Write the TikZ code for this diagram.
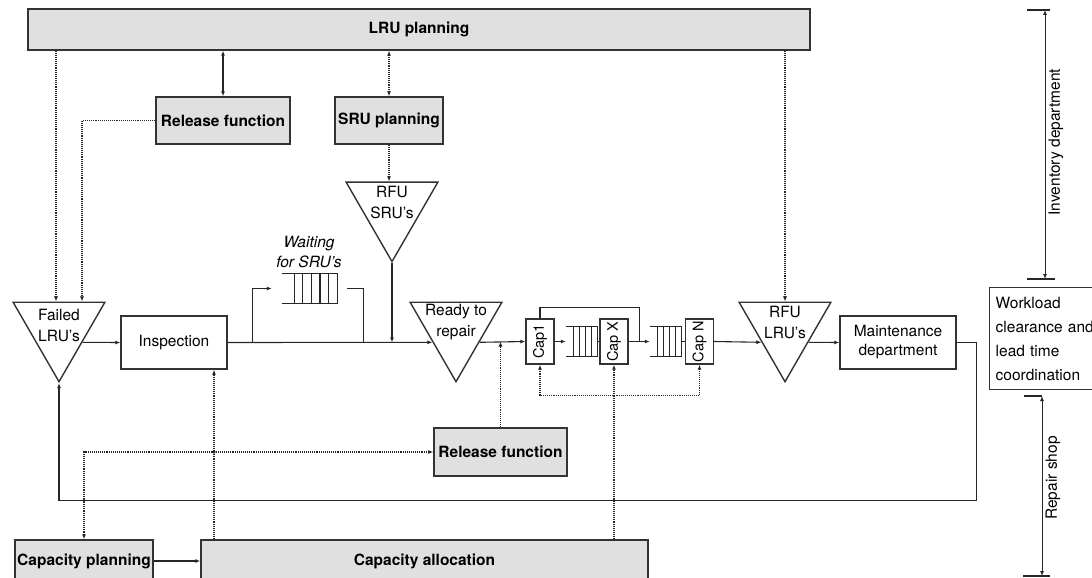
\documentclass[tikz,border=0pt]{standalone}
\usepackage{fontspec}
\setmainfont{TeX Gyre Heros}
\usetikzlibrary{positioning,calc,arrows.meta,shapes.geometric}

\begin{document}
\begin{tikzpicture}[x=1pt,y=-1pt,
  >={Latex[length=5pt,width=4pt]},
  box/.style={draw=black!80, line width=1.4pt, inner sep=0pt, align=center,
    font=\fontsize{15.5}{19}\selectfont},
  grey/.style={box, fill=black!12, font=\fontsize{15.5}{19}\selectfont\bfseries},
  stock/.style={regular polygon, regular polygon sides=3, shape border rotate=180,
    draw=black!80, line width=1.4pt, minimum size=106pt, inner sep=0pt},
  stocktext/.style={align=center, inner sep=0pt, font=\fontsize{15.5}{21}\selectfont},
  capbox/.style={box, minimum width=28pt, minimum height=45pt,
    font=\fontsize{14.5}{17}\selectfont},
  queue/.style={inner sep=0pt, minimum height=29pt},
  line/.style={draw=black!85, line width=1.1pt},
  flow/.style={line, ->},
  info/.style={line, densely dotted, ->},
  side/.style={font=\fontsize{15.5}{19}\selectfont, rotate=90},
]
  \useasboundingbox (0,0) rectangle (1092,578);
  \clip (0,0) rectangle (1092,578);

  % planning layer
  \node[grey, minimum width=782pt, minimum height=41pt] (lru) at (419,29.5) {LRU planning};
  \node[grey, minimum width=134pt, minimum height=47pt] (relup) at (223,120.5) {Release function};
  \node[grey, minimum width=108pt, minimum height=47pt] (sru) at (389,120.5) {SRU planning};
  \node[stock] (rfusru) at (392,208.6) {};
  \node[stocktext] (rfusrutxt) at ([yshift=6pt]rfusru.center) {RFU\\SRU's};

  % repair flow
  \node[stock] (failed) at (59,328.7) {};
  \node[stocktext] (failedtxt) at ([yshift=3pt]failed.center) {Failed\\LRU's};
  \node[box, minimum width=106pt, minimum height=53pt] (insp) at (174,342.5) {Inspection};
  \node[queue, minimum width=55pt] (q0) at (309.5,288.5) {};
  \node[align=center, font=\fontsize{15.5}{20}\selectfont\itshape] (waitlbl) at (309,252) {Waiting\\for SRU's};
  \node[stock] (ready) at (456,328.7) {};
  \node[stocktext] (readytxt) at ([yshift=7pt]ready.center) {Ready to\\repair};
  \node[capbox] (cap1) at (540,341.5) {\rotatebox{90}{Cap1}};
  \node[queue, minimum width=31pt] (q1) at (581.5,341.5) {};
  \node[capbox] (capx) at (614,341.5) {\rotatebox{90}{Cap X}};
  \node[queue, minimum width=31pt] (q2) at (665.5,341.5) {};
  \node[capbox] (capn) at (699.5,341.5) {\rotatebox{90}{Cap N}};
  \node[stock] (rfulru) at (785,328.7) {};
  \node[stocktext] (rfulrutxt) at ([yshift=6pt]rfulru.center) {RFU\\LRU's};
  \node[box, minimum width=116pt, minimum height=53pt] (maint) at (898,342.5) {Maintenance\\department};
  \node[box, anchor=north west, minimum height=102pt, text width=110pt, inner xsep=6pt,
    align=left, font=\fontsize{15.5}{24}\selectfont] (workload) at (989,287)
    {Workload\\clearance and\\lead time\\coordination};

  % capacity layer
  \node[grey, minimum width=133pt, minimum height=48pt] (reldown) at (500.5,452) {Release function};
  \node[grey, minimum width=138pt, minimum height=42pt] (cplan) at (84,561) {Capacity planning};
  \node[grey, minimum width=447pt, minimum height=42pt] (calloc) at (424.5,561) {Capacity allocation};

  % queues
  \foreach \q/\n/\s in {q0/5/8.6, q1/4/6, q2/4/6} {
    \draw[line] (\q.north west) -- (\q.north east) -- (\q.south east) -- (\q.south west);
    \foreach \k in {1,...,\n}
      \draw[line] ([xshift=-\k*\s]\q.north east) -- ([xshift=-\k*\s]\q.south east);
  }

  % information links
  \draw[line, <->] (relup.north) -- (relup.north |- lru.south);
  \draw[info, <->] (sru.north) -- (sru.north |- lru.south);
  \draw[info] (sru.south) -- (sru.south |- rfusru.north);
  \draw[info] ([xshift=-3pt]failed.north |- lru.south) -- ([xshift=-3pt]failed.north);
  \draw[info] (relup.west) -| ([xshift=23pt]failed.north);
  \draw[info] (rfulru.north |- lru.south) -- (rfulru.north);
  \draw[info] (reldown.north) -- (reldown.north |- cap1.west);
  \draw[info, <->] (cap1.south) -- ++(0,31) -| (capn.south);
  \draw[info] (calloc.north -| capx.south) -- (capx.south);
  \coordinate (ia) at ([xshift=40pt]insp.south);
  \draw[info] (calloc.north -| ia) -- (ia);
  \draw[info, <->] (reldown.west) -| (cplan.north);

  % goods flow
  \draw[flow] (failed.-30) -- (insp.west);
  \draw[flow] (insp.east) -- (ready.210);
  \draw[flow] ($(insp.east)+(25,0)$) |- ([xshift=-10pt]q0.west);
  \draw[line] ([xshift=10pt]q0.east) -| ($(insp.east)+(136,0)$);
  \draw[flow] (rfusru.south) -- (rfusru.south |- insp.east);
  \draw[flow] (ready.-30) -- (cap1.west);
  \draw[flow] (cap1.east) -- (q1.west);
  \draw[line] (q1.east) -- (capx.west);
  \draw[flow] (capx.east) -- (q2.west);
  \draw[line] (cap1.north) -- ++(0,-11) -| ($(capx.east)!0.5!(q2.west)$);
  \draw[line] (q2.east) -- (capn.west);
  \draw[flow] (capn.east) -- (rfulru.210);
  \draw[flow] (rfulru.-30) -- (maint.west);
  \coordinate (fb) at ($(maint.east)+(20,158)$);
  \draw[flow] (maint.east) -- ++(20,0) -- (fb) -| (failed.south);
  \draw[flow] (cplan.east) -- (calloc.west);

  % crossings
  \foreach \p in {cplan.north, ia, capx.south}
    \fill[black!85] (\p |- fb) circle (1.8pt);
  \fill[black!85] (ia |- reldown.west) circle (1.8pt);

  % departments
  \coordinate (invtop) at (1045,10);
  \coordinate (invbot) at (1045,279);
  \draw[line, line width=0.9pt, <->] (invtop) -- (invbot);
  \draw[line] ([xshift=-18pt]invtop) -- ([xshift=5pt]invtop);
  \draw[line] ([xshift=-18pt]invbot) -- ([xshift=10pt]invbot);
  \node[side] (invlbl) at (1056,142) {Inventory department};
  \coordinate (reptop) at (1042,396);
  \coordinate (repbot) at (1042,576);
  \draw[line, line width=0.9pt, <->] (reptop) -- (repbot);
  \draw[line] ([xshift=-18pt]reptop) -- (reptop);
  \draw[line] ([xshift=-19pt]repbot) -- ([xshift=8pt]repbot);
  \node[side] (replbl) at (1053,478) {Repair shop};
\end{tikzpicture}
\end{document}
